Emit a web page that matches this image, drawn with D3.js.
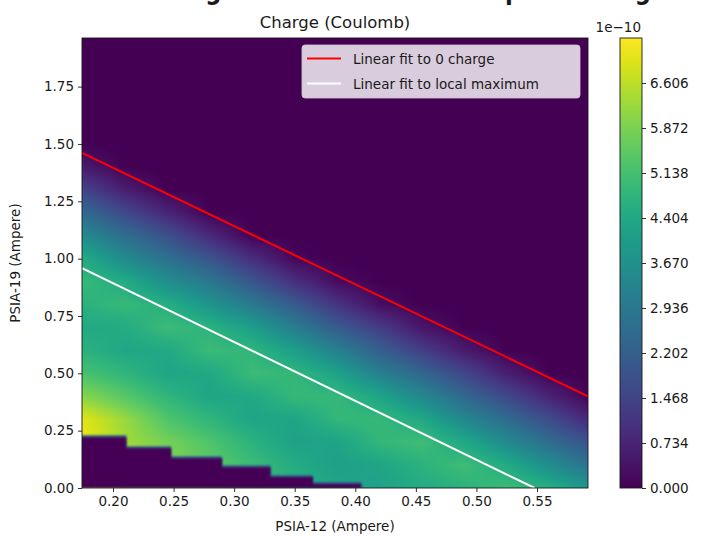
<!DOCTYPE html>
<html lang="en">
<head>
    <meta charset="UTF-8">
    <title>Charge map</title>
    <style>
        body { margin: 0; background: #fff; }
        text { font-family: "DejaVu Sans", sans-serif; fill: #1a1a1a; }
        .axis path, .axis line { stroke: #1a1a1a; stroke-width: 0.9; }
        .axis text { font-size: 13.5px; }
    </style>
</head>
<body>
<script src="https://d3js.org/d3.v7.min.js"></script>
<script>
    const width = 702;
    const height = 536;

    // grid of the sweep, PSIA-12 columns and PSIA-19 rows (Ampere)
    const xCols = [0.175, 0.21, 0.245, 0.28, 0.315, 0.35, 0.385, 0.42, 0.455, 0.49, 0.525, 0.56, 0.595];
    const yRows = [0, 0.1, 0.2, 0.3, 0.4, 0.5, 0.6, 0.7, 0.8, 0.9, 1.0, 1.1, 1.2, 1.3, 1.4, 1.5];
    // charge, units of 1e-10 C, one row per yRows entry
    const charge = [
        [7.2, 6.5, 6.0, 5.5, 5.0, 4.7, 4.3, 4.2, 4.5, 4.7, 5.0, 4.6, 3.8],
        [7.2, 6.5, 6.0, 5.5, 5.0, 4.5, 4.15, 4.3, 4.7, 5.05, 4.5, 3.6, 2.7],
        [7.2, 6.3, 5.8, 5.3, 4.7, 4.2, 4.25, 4.85, 5.05, 4.4, 3.5, 2.6, 1.8],
        [7.0, 6.2, 5.3, 4.8, 4.3, 4.3, 4.85, 4.9, 4.4, 3.4, 2.55, 1.7, 0.75],
        [6.0, 5.4, 4.8, 4.3, 4.4, 4.9, 4.9, 4.3, 3.4, 2.45, 1.6, 0.7, 0],
        [5.2, 4.8, 4.3, 4.4, 5.0, 4.85, 4.2, 3.2, 2.4, 1.55, 0.6, 0, 0],
        [4.7, 4.35, 4.4, 5.0, 4.8, 4.1, 3.2, 2.2, 1.35, 0.5, 0, 0, 0],
        [4.4, 4.5, 5.0, 4.7, 4.1, 3.1, 2.1, 1.3, 0.4, 0, 0, 0, 0],
        [4.7, 4.9, 4.6, 3.8, 3.0, 2.05, 1.1, 0.25, 0, 0, 0, 0, 0],
        [4.9, 4.5, 3.6, 2.9, 1.95, 1.0, 0.2, 0, 0, 0, 0, 0, 0],
        [4.5, 3.5, 2.7, 1.9, 0.95, 0.1, 0, 0, 0, 0, 0, 0, 0],
        [3.5, 2.6, 1.8, 0.85, 0, 0, 0, 0, 0, 0, 0, 0, 0],
        [2.5, 1.6, 0.75, 0, 0, 0, 0, 0, 0, 0, 0, 0, 0],
        [1.5, 0.6, 0, 0, 0, 0, 0, 0, 0, 0, 0, 0, 0],
        [0.5, 0, 0, 0, 0, 0, 0, 0, 0, 0, 0, 0, 0],
        [0, 0, 0, 0, 0, 0, 0, 0, 0, 0, 0, 0, 0]
    ];

    // unmeasured corner (staircase), right edge of each step and its height
    const stepX = [0.211, 0.248, 0.290, 0.330, 0.365, 0.405];
    const stepY = [0.221, 0.173, 0.130, 0.091, 0.048, 0.017];

    // linear fits
    const zeroFitX = [0.1744, 0.5921];
    const zeroFitY = [1.461, 0.400];
    const maxFitX = [0.1744, 0.548];
    const maxFitY = [0.959, 0.0];

    const xTicks = [0.20, 0.25, 0.30, 0.35, 0.40, 0.45, 0.50, 0.55];
    const yTicks = [0.00, 0.25, 0.50, 0.75, 1.00, 1.25, 1.50, 1.75];
    const cbTicks = [0.000, 0.734, 1.468, 2.202, 2.936, 3.670, 4.404, 5.138, 5.872, 6.606];
    const cbMax = 7.34;

    const plot = {left: 82, right: 588, top: 38, bottom: 488};
    const cb = {left: 620, right: 642};

    const x = d3.scaleLinear().domain([0.1744, 0.5921]).range([plot.left, plot.right]);
    const y = d3.scaleLinear().domain([0, 1.962]).range([plot.bottom, plot.top]);
    const color = d3.scaleSequential(d3.interpolateViridis).domain([0, cbMax]);

    const svg = d3.select('body').append('svg').attr('width', width).attr('height', height);

    // figure title, cut off by the top edge in the original (only descenders show)
    svg.append('text')
        .attr('x', 146).attr('y', -1)
        .attr('textLength', 505).attr('lengthAdjust', 'spacingAndGlyphs')
        .style('font-size', '26px').style('font-weight', 'bold')
        .text('Charge Distribution Heatmap vs Tuning');

    // heatmap image, bilinear between grid cells like imshow
    const pw = plot.right - plot.left;
    const ph = plot.bottom - plot.top;
    const canvas = document.createElement('canvas');
    canvas.width = pw;
    canvas.height = ph;
    const ctx = canvas.getContext('2d');
    const img = ctx.createImageData(pw, ph);

    function valueAt(vx, vy) {
        let i = Math.max(0, Math.min(xCols.length - 2, d3.bisectRight(xCols, vx) - 1));
        let j = Math.max(0, Math.min(yRows.length - 2, d3.bisectRight(yRows, vy) - 1));
        let tx = Math.max(0, Math.min(1, (vx - xCols[i]) / (xCols[i + 1] - xCols[i])));
        let ty = Math.max(0, Math.min(1, (vy - yRows[j]) / (yRows[j + 1] - yRows[j])));
        const a = charge[j][i], b = charge[j][i + 1], c = charge[j + 1][i], d = charge[j + 1][i + 1];
        return (a * (1 - tx) + b * tx) * (1 - ty) + (c * (1 - tx) + d * tx) * ty;
    }

    for (let py = 0; py < ph; py++) {
        const vy = y.invert(plot.top + py + 0.5);
        for (let px = 0; px < pw; px++) {
            const vx = x.invert(plot.left + px + 0.5);
            const c = d3.rgb(color(valueAt(vx, vy)));
            const k = (py * pw + px) * 4;
            img.data[k] = c.r;
            img.data[k + 1] = c.g;
            img.data[k + 2] = c.b;
            img.data[k + 3] = 255;
        }
    }
    ctx.putImageData(img, 0, 0);

    const defs = svg.append('defs');
    defs.append('clipPath').attr('id', 'plotclip')
        .append('rect').attr('x', plot.left).attr('y', plot.top).attr('width', pw).attr('height', ph);
    defs.append('filter').attr('id', 'soft').attr('x', '-5%').attr('y', '-5%').attr('width', '110%').attr('height', '110%')
        .append('feGaussianBlur').attr('stdDeviation', 1.3);

    svg.append('image')
        .attr('x', plot.left).attr('y', plot.top)
        .attr('width', pw).attr('height', ph)
        .attr('href', canvas.toDataURL());

    // staircase of the unmeasured corner
    const stairs = [[x.domain()[0], stepY[0]]];
    stepX.forEach((sx, k) => {
        stairs.push([sx, stepY[k]]);
        stairs.push([sx, k + 1 < stepY.length ? stepY[k + 1] : 0]);
    });
    stairs.push([x.domain()[0] - 0.01, 0], [x.domain()[0] - 0.01, stepY[0]]);
    const stairLine = d3.line().x(d => x(d[0])).y(d => y(d[1]));

    const maskG = svg.append('g').attr('clip-path', 'url(#plotclip)');
    maskG.append('path')
        .attr('d', stairLine(stairs) + 'Z')
        .attr('transform', 'translate(0,-2)')
        .attr('fill', color(cbMax * 0.3))
        .attr('filter', 'url(#soft)');
    maskG.append('path')
        .attr('d', stairLine(stairs) + 'Z')
        .attr('fill', color(0))
        .attr('filter', 'url(#soft)');

    // fit lines
    const fitLine = d3.line().x(d => x(d[0])).y(d => y(d[1]));
    const fits = svg.append('g').attr('clip-path', 'url(#plotclip)');
    fits.append('path')
        .attr('d', fitLine(zeroFitX.map((v, k) => [v, zeroFitY[k]])))
        .attr('stroke', '#ff0000').attr('stroke-width', 2).attr('fill', 'none');
    fits.append('path')
        .attr('d', fitLine(maxFitX.map((v, k) => [v, maxFitY[k]])))
        .attr('stroke', '#ffffff').attr('stroke-width', 2).attr('fill', 'none');

    // frame and axes
    svg.append('rect')
        .attr('x', plot.left).attr('y', plot.top).attr('width', pw).attr('height', ph)
        .attr('fill', 'none').attr('stroke', '#1a1a1a').attr('stroke-width', 0.9);

    const xAxis = svg.append('g').attr('class', 'axis')
        .attr('transform', `translate(0,${plot.bottom})`)
        .call(d3.axisBottom(x).tickValues(xTicks).tickFormat(d3.format('.2f')).tickSize(4).tickSizeOuter(0).tickPadding(4));
    xAxis.select('.domain').remove();

    const yAxis = svg.append('g').attr('class', 'axis')
        .attr('transform', `translate(${plot.left},0)`)
        .call(d3.axisLeft(y).tickValues(yTicks).tickFormat(d3.format('.2f')).tickSize(4).tickSizeOuter(0).tickPadding(4));
    yAxis.select('.domain').remove();

    svg.append('text')
        .attr('x', (plot.left + plot.right) / 2).attr('y', 531)
        .attr('text-anchor', 'middle').style('font-size', '13.5px')
        .text('PSIA-12 (Ampere)');

    svg.append('text')
        .attr('transform', `translate(20,${(plot.top + plot.bottom) / 2}) rotate(-90)`)
        .attr('text-anchor', 'middle').style('font-size', '13.5px')
        .text('PSIA-19 (Ampere)');

    svg.append('text')
        .attr('x', (plot.left + plot.right) / 2).attr('y', 28)
        .attr('text-anchor', 'middle').style('font-size', '16.5px')
        .text('Charge (Coulomb)');

    // legend
    const legend = svg.append('g').attr('transform', 'translate(302,45)');
    legend.append('rect')
        .attr('width', 278).attr('height', 53).attr('rx', 3)
        .attr('fill', '#ffffff').attr('fill-opacity', 0.8)
        .attr('stroke', '#cccccc').attr('stroke-width', 0.8);
    const legendItems = [
        {label: 'Linear fit to 0 charge', stroke: '#ff0000'},
        {label: 'Linear fit to local maximum', stroke: '#ffffff'}
    ];
    legendItems.forEach((it, k) => {
        const ly = 13.5 + k * 25;
        legend.append('line').attr('x1', 5).attr('x2', 39).attr('y1', ly).attr('y2', ly)
            .attr('stroke', it.stroke).attr('stroke-width', 2);
        legend.append('text').attr('x', 51).attr('y', ly + 5)
            .style('font-size', '13.5px').text(it.label);
    });

    // colorbar
    const cbY = d3.scaleLinear().domain([0, cbMax]).range([plot.bottom, plot.top]);
    const grad = defs.append('linearGradient').attr('id', 'cbgrad')
        .attr('x1', 0).attr('x2', 0).attr('y1', 1).attr('y2', 0);
    d3.range(0, 1.0001, 0.05).forEach(t => {
        grad.append('stop').attr('offset', t).attr('stop-color', color(t * cbMax));
    });
    svg.append('rect')
        .attr('x', cb.left).attr('y', plot.top)
        .attr('width', cb.right - cb.left).attr('height', ph)
        .attr('fill', 'url(#cbgrad)').attr('stroke', '#1a1a1a').attr('stroke-width', 0.9);
    const cbAxis = svg.append('g').attr('class', 'axis')
        .attr('transform', `translate(${cb.right},0)`)
        .call(d3.axisRight(cbY).tickValues(cbTicks).tickFormat(d3.format('.3f')).tickSize(4).tickSizeOuter(0).tickPadding(4));
    cbAxis.select('.domain').remove();

    svg.append('text')
        .attr('x', 641).attr('y', 32)
        .attr('text-anchor', 'end').style('font-size', '13.5px')
        .text('1e\u221210');
</script>
</body>
</html>
